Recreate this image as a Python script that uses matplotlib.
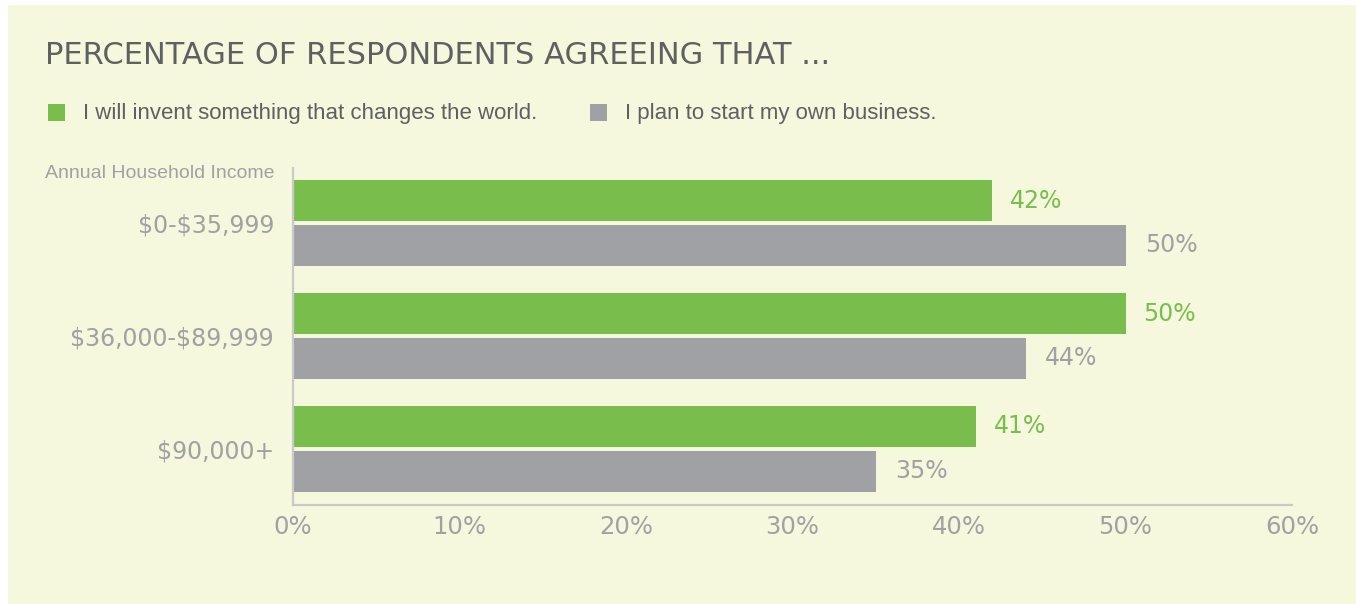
import matplotlib
matplotlib.use("Agg")
import matplotlib.pyplot as plt
from matplotlib.patches import Rectangle

# Survey results by annual household income
categories = ["\\$0-\\$35,999", "\\$36,000-\\$89,999", "\\$90,000+"]
invent_world = [42, 50, 41]
own_business = [50, 44, 35]
series_names = ["I will invent something that changes the world.",
                "I plan to start my own business."]
x_ticks = [0, 10, 20, 30, 40, 50, 60]

BG = "#F5F8DC"
GREEN = "#79BE4D"
GREY = "#A0A1A4"
TITLE_C = "#5F6062"
LABEL_C = "#A0A1A4"
SPINE_C = "#C9CACB"

SANS = ["Liberation Sans", "DejaVu Sans"]
WIDE = ["DejaVu Sans"]
plt.rcParams["font.family"] = SANS

W, H = 1356, 604
fig = plt.figure(figsize=(W / 100, H / 100), dpi=100)
fig.patch.set_facecolor("white")
fig.patches.append(Rectangle((8 / W, 0), 1 - 8 / W, 1 - 5 / H,
                             transform=fig.transFigure, facecolor=BG,
                             edgecolor="none", zorder=-10))

ax = fig.add_axes([293 / W, 99 / H, (1292 - 293) / W, (505 - 168) / H])
ax.set_facecolor("none")

bar_h = 0.363
offset = 0.199
ys = list(range(len(categories)))
ax.barh([y - offset for y in ys], invent_world, height=bar_h, color=GREEN)
ax.barh([y + offset for y in ys], own_business, height=bar_h, color=GREY)

for y, v in zip(ys, invent_world):
    ax.annotate(f"{v}%", (v, y - offset), xytext=(13, 0), textcoords="offset points",
                va="center", ha="left", fontsize=17, color=GREEN, family=WIDE)
for y, v in zip(ys, own_business):
    ax.annotate(f"{v}%", (v, y + offset), xytext=(14, 0), textcoords="offset points",
                va="center", ha="left", fontsize=17, color=LABEL_C, family=WIDE)

ax.set_xlim(0, 60)
ax.set_ylim(2.496, -0.487)
ax.set_xticks(x_ticks)
ax.set_xticklabels([f"{t}%" for t in x_ticks], fontsize=17.5, color=LABEL_C,
                   family=WIDE)
ax.set_yticks(ys)
ax.set_yticklabels(categories, fontsize=17, color=LABEL_C, family=WIDE)
ax.tick_params(length=0)
ax.tick_params(axis="x", pad=7)
ax.tick_params(axis="y", pad=13.7)
for s in ("top", "right"):
    ax.spines[s].set_visible(False)
for s in ("left", "bottom"):
    ax.spines[s].set_color(SPINE_C)
    ax.spines[s].set_linewidth(1.6)

fig.text(45 / W, 1 - 55 / H, "PERCENTAGE OF RESPONDENTS AGREEING THAT ...",
         fontsize=22, color=TITLE_C, va="center", ha="left", family=WIDE)

# legend
for x0, name in ((48, series_names[0]), (590, series_names[1])):
    color = GREEN if x0 == 48 else GREY
    fig.patches.append(Rectangle((x0 / W, 1 - 121 / H), 17 / W, 17 / H,
                                 transform=fig.transFigure, facecolor=color,
                                 edgecolor="none"))
    fig.text((x0 + 35) / W, 1 - 113 / H, name, fontsize=16, color=TITLE_C,
             va="center", ha="left")

fig.text(45 / W, 1 - 173 / H, "Annual Household Income", fontsize=14,
         color=LABEL_C, va="center", ha="left")

fig.savefig("out.png", dpi=100, facecolor=fig.get_facecolor())
